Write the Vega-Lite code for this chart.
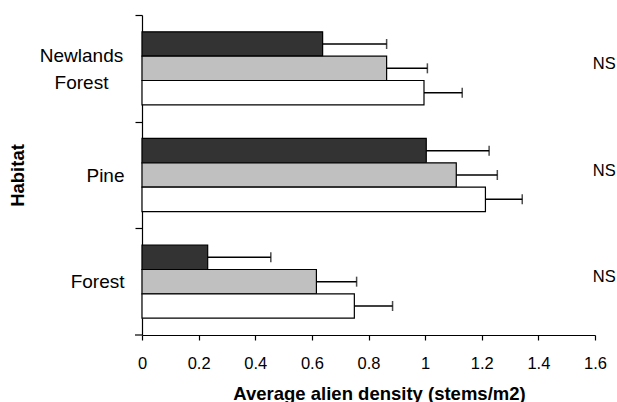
{
  "$schema": "https://vega.github.io/schema/vega-lite/v6.json",
  "width": 453,
  "height": 320,
  "autosize": {"type": "none"},
  "padding": {"left": 142, "top": 15, "right": 22, "bottom": 67},
  "config": {
    "view": {"stroke": null},
    "font": "Liberation Sans",
    "axis": {"grid": false, "domainColor": "black", "tickColor": "black", "labelColor": "black", "titleColor": "black", "domainWidth": 1.2, "tickWidth": 1.2}
  },
  "data": {
    "values": [
      {"habitat": "Newlands Forest", "series": "Series 1", "mean": 0.638, "upper": 0.864},
      {"habitat": "Newlands Forest", "series": "Series 2", "mean": 0.864, "upper": 1.008},
      {"habitat": "Newlands Forest", "series": "Series 3", "mean": 0.996, "upper": 1.131},
      {"habitat": "Pine", "series": "Series 1", "mean": 1.004, "upper": 1.226},
      {"habitat": "Pine", "series": "Series 2", "mean": 1.11, "upper": 1.255},
      {"habitat": "Pine", "series": "Series 3", "mean": 1.213, "upper": 1.343},
      {"habitat": "Forest", "series": "Series 1", "mean": 0.232, "upper": 0.455},
      {"habitat": "Forest", "series": "Series 2", "mean": 0.616, "upper": 0.758},
      {"habitat": "Forest", "series": "Series 3", "mean": 0.75, "upper": 0.885}
    ]
  },
  "layer": [
    {
      "mark": {"type": "bar", "stroke": "black", "strokeWidth": 1.2},
      "encoding": {
        "y": {
          "field": "habitat", "type": "nominal",
          "sort": ["Newlands Forest", "Pine", "Forest"],
          "scale": {"paddingInner": 0, "paddingOuter": 0},
          "axis": {
            "title": "Habitat", "titleFontSize": 18.5, "titleFontWeight": "bold",
            "titleAngle": 270, "titleX": -125, "titleY": 160, "titleAlign": "center", "titleBaseline": "middle",
            "labelFontSize": 19, "tickSize": 7,
            "labelPadding": {"condition": {"test": "datum.value == 'Newlands Forest'", "value": 54}, "value": 11},
            "labelAlign": {"condition": {"test": "datum.value == 'Newlands Forest'", "value": "center"}, "value": "right"},
            "tickOffset": -53.33,
            "labelOffset": {"condition": {"test": "datum.value == 'Newlands Forest'", "value": 40}, "value": 53.33},
            "labelExpr": "datum.value == 'Newlands Forest' ? ['Newlands', 'Forest'] : datum.value",
            "labelLineHeight": 27
          }
        },
        "yOffset": {
          "field": "series", "type": "nominal",
          "sort": ["Series 1", "Series 2", "Series 3"],
          "scale": {"paddingInner": 0, "paddingOuter": 0.69}
        },
        "x": {
          "field": "mean", "type": "quantitative",
          "scale": {"domain": [0, 1.6], "nice": false},
          "axis": {
            "title": "Average alien density (stems/m2)", "titleFontSize": 18.5, "titleFontWeight": "bold",
            "titleX": 237, "titleY": 58, "titleBaseline": "middle", "titleAlign": "center",
            "values": [0, 0.2, 0.4, 0.6, 0.8, 1, 1.2, 1.4, 1.6], "format": "~g",
            "labelFontSize": 16.5, "labelPadding": 15, "tickSize": 5, "labelFlush": false
          }
        },
        "fill": {
          "field": "series", "type": "nominal",
          "scale": {"domain": ["Series 1", "Series 2", "Series 3"], "range": ["#333333", "#c0c0c0", "#ffffff"]},
          "legend": null
        }
      }
    },
    {
      "mark": {"type": "rule", "color": "black", "strokeWidth": 1.5},
      "encoding": {
        "y": {"field": "habitat", "type": "nominal", "sort": ["Newlands Forest", "Pine", "Forest"]},
        "yOffset": {"field": "series", "type": "nominal", "sort": ["Series 1", "Series 2", "Series 3"]},
        "x": {"field": "mean", "type": "quantitative"},
        "x2": {"field": "upper"}
      }
    },
    {
      "mark": {"type": "tick", "color": "black", "size": 10, "thickness": 1.5},
      "encoding": {
        "y": {"field": "habitat", "type": "nominal", "sort": ["Newlands Forest", "Pine", "Forest"]},
        "yOffset": {"field": "series", "type": "nominal", "sort": ["Series 1", "Series 2", "Series 3"]},
        "x": {"field": "upper", "type": "quantitative"}
      }
    },
    {
      "data": {"values": [
        {"habitat": "Newlands Forest", "label": "NS"},
        {"habitat": "Pine", "label": "NS"},
        {"habitat": "Forest", "label": "NS"}
      ]},
      "mark": {"type": "text", "align": "left", "baseline": "middle", "fontSize": 16.5, "color": "black"},
      "encoding": {
        "y": {"field": "habitat", "type": "nominal", "sort": ["Newlands Forest", "Pine", "Forest"], "bandPosition": 0.46},
        "x": {"datum": 1.592},
        "text": {"field": "label"}
      }
    },
    {
      "data": {"values": [{"habitat": "Forest"}]},
      "mark": {"type": "rule", "color": "black", "strokeWidth": 1.2},
      "encoding": {
        "y": {"field": "habitat", "type": "nominal", "sort": ["Newlands Forest", "Pine", "Forest"], "bandPosition": 1},
        "x": {"datum": -0.0247},
        "x2": {"datum": 0}
      }
    }
  ]
}
